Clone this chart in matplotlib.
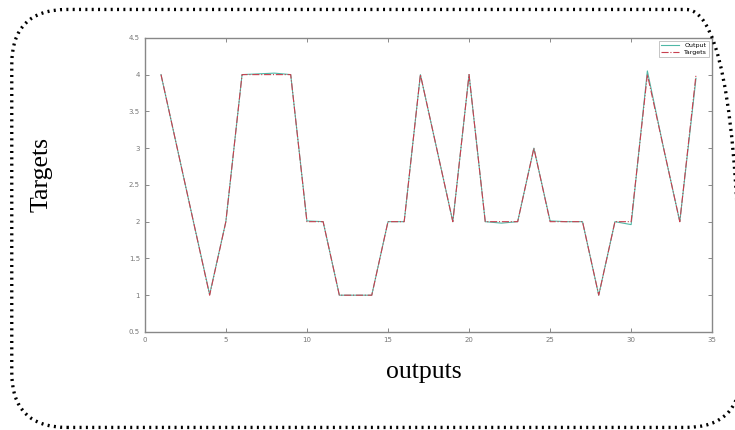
import matplotlib
matplotlib.use("Agg")
import matplotlib.pyplot as plt
from matplotlib.patches import FancyBboxPatch

# sample index
idx = list(range(1, 35))
targets = [4, 3, 2, 1, 2, 4, 4, 4, 4, 2, 2, 1, 1, 1, 2, 2, 4, 3, 2, 4,
           2, 2, 2, 3, 2, 2, 2, 1, 2, 2, 4, 3, 2, 4]
output = [4.0, 3.0, 2.0, 1.01, 2.0, 4.0, 4.01, 4.02, 4.0, 2.01, 2.0, 1.0, 1.0, 1.0, 2.0, 2.0, 4.0, 3.0, 2.0, 4.0,
          2.0, 1.98, 2.0, 3.0, 2.01, 2.0, 2.0, 1.0, 2.0, 1.96, 4.05, 3.0, 2.0, 3.95]

fig = plt.figure(figsize=(7.35, 4.3), dpi=100)

# dotted rounded frame around everything (right side runs off the image)
frame = FancyBboxPatch((0.016, 0.006), 0.992, 0.972, boxstyle="round,pad=0,rounding_size=0.075",
                       transform=fig.transFigure, fill=False, ec="black", lw=2.4,
                       ls=(0, (0.6, 1.3)), mutation_aspect=735/430)
fig.patches.append(frame)

ax = fig.add_axes([0.197, 0.228, 0.772, 0.684])
ax.plot(idx, output, color="#4fb8a6", lw=0.8, label="Output")
ax.plot(idx, targets, color="#c8404f", lw=0.8, ls="-.", label="Targets")
ax.set_xlim(0, 35)
ax.set_ylim(0.5, 4.5)
ax.set_xticks(range(0, 36, 5))
ax.set_yticks([0.5, 1, 1.5, 2, 2.5, 3, 3.5, 4, 4.5])
ax.set_yticklabels(["0.5", "1", "1.5", "2", "2.5", "3", "3.5", "4", "4.5"])
ax.tick_params(labelsize=5, colors="#777777", length=3, width=0.6, direction="in", top=True, right=True)
for s in ax.spines.values():
    s.set_color("#888888")
    s.set_linewidth(1.0)
leg = ax.legend(loc="upper right", fontsize=4.5, frameon=True, fancybox=False,
                handlelength=3, borderpad=0.3, labelspacing=0.2)
leg.get_frame().set_edgecolor("#999999")
leg.get_frame().set_linewidth(0.5)

fig.text(0.057, 0.595, "Targets", rotation=90, ha="center", va="center",
         family="Liberation Serif", fontsize=18.5)
fig.text(0.577, 0.135, "outputs", ha="center", va="center",
         family="Liberation Serif", fontsize=18.5)

fig.savefig("out.png", dpi=100)
